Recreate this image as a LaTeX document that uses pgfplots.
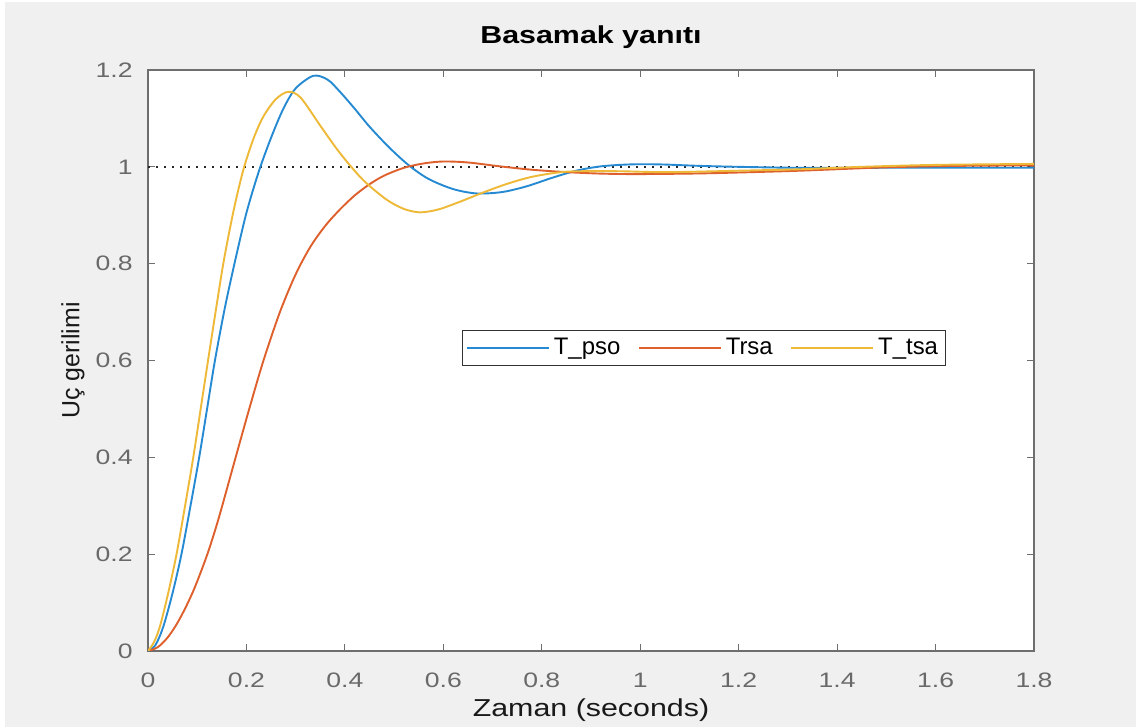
\documentclass[border=0pt]{standalone}
\usepackage{fontspec}
\setmainfont{Liberation Sans}
\newfontfamily\tickfont[FakeStretch=1.27]{Liberation Sans}
\newfontfamily\labfont[FakeStretch=1.24]{Liberation Sans}
\usepackage{pgfplots}
\pgfplotsset{compat=1.18}

\definecolor{figbg}{RGB}{240,240,240}
\definecolor{axgray}{RGB}{110,110,110}
\definecolor{tickgray}{RGB}{105,105,105}
\definecolor{mblue}{RGB}{38,138,210}
\definecolor{mred}{RGB}{222,96,44}
\definecolor{myellow}{RGB}{238,185,55}

\begin{document}
\begin{tikzpicture}
\useasboundingbox (0,0) rectangle (568bp,363.5bp);
\fill[white] (0,0) rectangle (568bp,363.5bp);
\fill[figbg] (2.5bp,0) rectangle (568bp,362.5bp);
\begin{axis}[
  at={(74bp,38bp)}, anchor=south west,
  scale only axis, width=443bp, height=290.5bp,
  xmin=0, xmax=1.8, ymin=0, ymax=1.2,
  xtick={0,0.2,0.4,0.6,0.8,1,1.2,1.4,1.6,1.8},
  ytick={0,0.2,0.4,0.6,0.8,1,1.2},
  axis background/.style={fill=white},
  axis line style={axgray, line width=0.6bp},
  every tick/.style={axgray, line width=0.6bp},
  major tick length=3.5bp,
  tick align=inside,
  /pgf/number format/assume math mode=true,
  ticklabel style={font=\tickfont\fontsize{10.5}{12}\selectfont, text=tickgray, inner sep=0pt},
  xticklabel style={anchor=base, yshift=-18bp},
  yticklabel style={anchor=east, xshift=-7.5bp},
  every axis title shift=0pt,
  title={Basamak yanıtı},
  title style={font=\labfont\bfseries\fontsize{12.3}{14}\selectfont, at={(axis description cs:0.5,1.0458)}, anchor=base, inner sep=0pt, text=black},
  xlabel={Zaman (seconds)},
  xlabel style={font=\labfont\fontsize{12.3}{14}\selectfont, at={(axis description cs:0.5,-0.1129)}, anchor=base, inner sep=0pt, text=black!90},
  ylabel={Uç gerilimi},
  ylabel style={font=\fontsize{12.5}{14}\selectfont, at={(axis description cs:-0.0847,0.5)}, anchor=center, inner sep=0pt, text=black!90},
  legend columns=3,
  legend image code/.code={\draw[#1] (0bp,0bp) -- (41bp,0bp);},
  legend style={at={(axis description cs:0.354,0.5525)}, anchor=north west,
    draw=black!80, line width=0.5bp, fill=white,
    inner xsep=2bp, inner ysep=1.8bp,
    font=\fontsize{12}{14}\selectfont,
    nodes={inner xsep=1.9bp, inner ysep=2bp},
    /tikz/every even column/.append style={column sep=7bp}},
]
% steady-state reference
\addplot[black!85, line width=0.8bp, dash pattern=on 0.9bp off 3.1bp, forget plot] coordinates {(0,1) (1.8,1)};

% T_pso
\addplot[mblue, line width=0.95bp, smooth] coordinates {
(0,0) (0.015,0.012) (0.031,0.05) (0.05,0.12) (0.068,0.2) (0.086,0.298) (0.104,0.4)
(0.12,0.5) (0.136,0.6) (0.156,0.708) (0.177,0.806) (0.2,0.905) (0.225,0.99)
(0.25,1.06) (0.275,1.12) (0.3,1.162) (0.336,1.188) (0.365,1.18) (0.39,1.155)
(0.42,1.12) (0.45,1.083) (0.49,1.04) (0.53,1.003) (0.57,0.975) (0.62,0.954)
(0.668,0.945) (0.72,0.948) (0.77,0.96) (0.82,0.977) (0.87,0.992) (0.92,1.001)
(0.98,1.005) (1.04,1.005) (1.12,1.002) (1.2,1.0) (1.32,0.998) (1.5,0.998) (1.8,0.998)
};
\addlegendentry{T\_pso}

% Trsa
\addplot[mred, line width=0.95bp, smooth] coordinates {
(0,0) (0.02,0.008) (0.04,0.028) (0.058,0.055) (0.075,0.087) (0.092,0.124)
(0.108,0.165) (0.123,0.207) (0.138,0.255) (0.15,0.297) (0.177,0.396) (0.204,0.494)
(0.234,0.598) (0.268,0.7) (0.3,0.778) (0.33,0.835) (0.36,0.878) (0.39,0.912)
(0.42,0.941) (0.45,0.964) (0.48,0.982) (0.52,0.998) (0.56,1.007) (0.6,1.011)
(0.65,1.009) (0.715,1.001) (0.78,0.994) (0.851,0.989) (0.92,0.986) (0.99,0.985)
(1.1,0.986) (1.19,0.988) (1.325,0.992) (1.5,0.999) (1.65,1.002) (1.8,1.003)
};
\addlegendentry{Trsa}

% T_tsa
\addplot[myellow, line width=0.95bp, smooth] coordinates {
(0,0) (0.012,0.018) (0.024,0.05) (0.04,0.115) (0.058,0.2) (0.075,0.298) (0.092,0.4)
(0.107,0.5) (0.122,0.6) (0.138,0.705) (0.154,0.806) (0.174,0.91) (0.194,0.995)
(0.215,1.06) (0.235,1.105) (0.26,1.14) (0.285,1.155) (0.31,1.143) (0.35,1.085)
(0.385,1.035) (0.417,0.995) (0.444,0.966) (0.485,0.932) (0.52,0.913) (0.553,0.906)
(0.59,0.912) (0.634,0.928) (0.681,0.947) (0.73,0.965) (0.783,0.98) (0.851,0.99)
(0.95,0.991) (1.054,0.989) (1.2,0.992) (1.325,0.995) (1.45,1.0) (1.6,1.004) (1.8,1.006)
};
\addlegendentry{T\_tsa}
\end{axis}
\end{tikzpicture}
\end{document}
